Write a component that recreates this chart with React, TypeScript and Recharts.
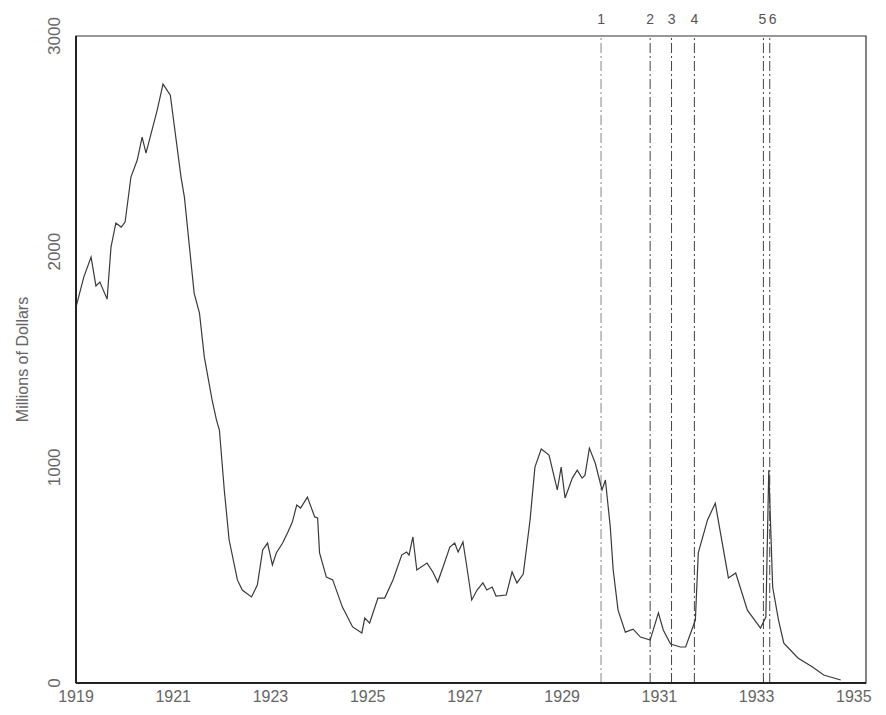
import React from 'react';
import { LineChart, Line, XAxis, YAxis, ReferenceLine, ReferenceArea } from 'recharts';

// Time in decimal years
const dates = [
  1919.00, 1919.16, 1919.31, 1919.41, 1919.49, 1919.64, 1919.72, 1919.82, 1919.93, 1920.01,
  1920.13, 1920.26, 1920.36, 1920.44, 1920.67, 1920.79, 1920.94, 1921.16, 1921.23, 1921.43,
  1921.54, 1921.64, 1921.80, 1921.89, 1921.95, 1922.05, 1922.15, 1922.32, 1922.42, 1922.61,
  1922.73, 1922.84, 1922.94, 1923.04, 1923.12, 1923.25, 1923.35, 1923.45, 1923.54, 1923.62,
  1923.76, 1923.91, 1923.97, 1924.01, 1924.15, 1924.28, 1924.48, 1924.69, 1924.88, 1924.94,
  1925.04, 1925.21, 1925.35, 1925.52, 1925.70, 1925.80, 1925.85, 1925.93, 1926.01, 1926.22,
  1926.34, 1926.44, 1926.55, 1926.69, 1926.79, 1926.86, 1926.96, 1927.04, 1927.14, 1927.25,
  1927.37, 1927.45, 1927.56, 1927.64, 1927.85, 1927.97, 1928.07, 1928.20, 1928.34, 1928.44,
  1928.57, 1928.73, 1928.90, 1928.98, 1929.06, 1929.21, 1929.31, 1929.41, 1929.47, 1929.56,
  1929.68, 1929.82, 1929.89, 1929.99, 1930.05, 1930.15, 1930.30, 1930.46, 1930.61, 1930.81,
  1930.98, 1931.08, 1931.23, 1931.43, 1931.54, 1931.74, 1931.80, 1931.99, 1932.15, 1932.22,
  1932.42, 1932.57, 1932.81, 1933.08, 1933.19, 1933.25, 1933.33, 1933.45, 1933.56, 1933.85,
  1934.15, 1934.38, 1934.73,
];

// Millions of dollars
const borrowings = [
  1743, 1882, 1975, 1841, 1859, 1780, 2021, 2133, 2114, 2137,
  2346, 2425, 2531, 2457, 2656, 2777, 2726, 2346, 2253, 1808,
  1715, 1511, 1312, 1219, 1173, 895, 663, 478, 431, 399,
  454, 617, 649, 547, 603, 649, 695, 746, 825, 811,
  862, 770, 765, 603, 491, 478, 352, 260, 232, 301,
  278, 394, 394, 478, 593, 607, 593, 677, 524, 556,
  515, 468, 538, 630, 649, 607, 654, 538, 385, 431,
  464, 431, 445, 403, 408, 515, 464, 505, 756, 1001,
  1085, 1057, 895, 1001, 858, 950, 987, 950, 964, 1089,
  1020, 895, 941, 723, 524, 338, 236, 250, 213, 199,
  325, 246, 181, 167, 167, 292, 603, 756, 834, 742,
  487, 510, 338, 255, 306, 987, 445, 292, 185, 116,
  74, 37, 14,
];

const yearTicks = [1919, 1921, 1923, 1925, 1927, 1929, 1931, 1933, 1935];
const valueTicks = [0, 1000, 2000, 3000];
const eventLabels = ['1', '2', '3', '4', '5', '6'];
const eventDates = [1929.80, 1930.81, 1931.25, 1931.72, 1933.14, 1933.27];
const yTitle = 'Millions of Dollars';

const X_DOMAIN: [number, number] = [1919, 1935.25];
const FONT = '"Liberation Sans", Arial, sans-serif';

const data = dates.map((t, i) => ({ t, v: borrowings[i] }));

const YTick = (props: any) => {
  const { x, y, payload } = props;
  return (
    <text
      x={0}
      y={0}
      transform={`translate(${x - 8},${y}) rotate(-90)`}
      textAnchor="middle"
      fill="#666"
      fontSize={17}
      fontFamily={FONT}
    >
      {payload.value}
    </text>
  );
};

const makeEventLabel = (text: string, anchor: 'start' | 'middle' | 'end') => (props: any) => {
  const vb = props.viewBox || {};
  const dx = anchor === 'end' ? 3 : anchor === 'start' ? -1 : 0;
  return (
    <text
      x={vb.x + dx}
      y={vb.y - 12}
      textAnchor={anchor}
      fill="#555"
      fontSize={14}
      fontFamily={FONT}
    >
      {text}
    </text>
  );
};

export default function App() {
  return (
    <div style={{ width: 870, height: 700 }}>
      <LineChart
        width={870}
        height={700}
        data={data}
        margin={{ top: 28, right: 12, bottom: 0, left: 0 }}
      >
        <XAxis
          dataKey="t"
          type="number"
          domain={X_DOMAIN}
          ticks={yearTicks}
          allowDataOverflow
          height={25}
          tickLine={false}
          axisLine={{ stroke: '#222', strokeWidth: 2 }}
          tick={{ fill: '#666', fontSize: 16, fontFamily: FONT }}
          interval={0}
        />
        <YAxis
          type="number"
          domain={[0, 3000]}
          ticks={valueTicks}
          width={68}
          tickLine={false}
          axisLine={{ stroke: '#222', strokeWidth: 2 }}
          tick={<YTick />}
          interval={0}
          label={{
            value: yTitle,
            angle: -90,
            position: 'insideLeft',
            offset: 14,
            fill: '#666',
            fontSize: 16,
            fontFamily: FONT,
            style: { textAnchor: 'middle' },
          }}
        />
        <ReferenceArea
          x1={X_DOMAIN[0]}
          x2={X_DOMAIN[1]}
          y1={0}
          y2={3000}
          fill="none"
          stroke="#333"
          strokeWidth={1.2}
          ifOverflow="visible"
        />
        {eventDates.map((d, i) => (
          <ReferenceLine
            key={eventLabels[i]}
            x={d}
            stroke={i === 0 ? '#888' : '#444'}
            strokeWidth={1}
            strokeDasharray="10 3 2 3"
            ifOverflow="visible"
            label={makeEventLabel(
              eventLabels[i],
              i === 4 ? 'end' : i === 5 ? 'start' : 'middle'
            )}
          />
        ))}
        <Line
          type="linear"
          dataKey="v"
          stroke="#3a3a3a"
          strokeWidth={1.2}
          dot={false}
          isAnimationActive={false}
        />
      </LineChart>
    </div>
  );
}
